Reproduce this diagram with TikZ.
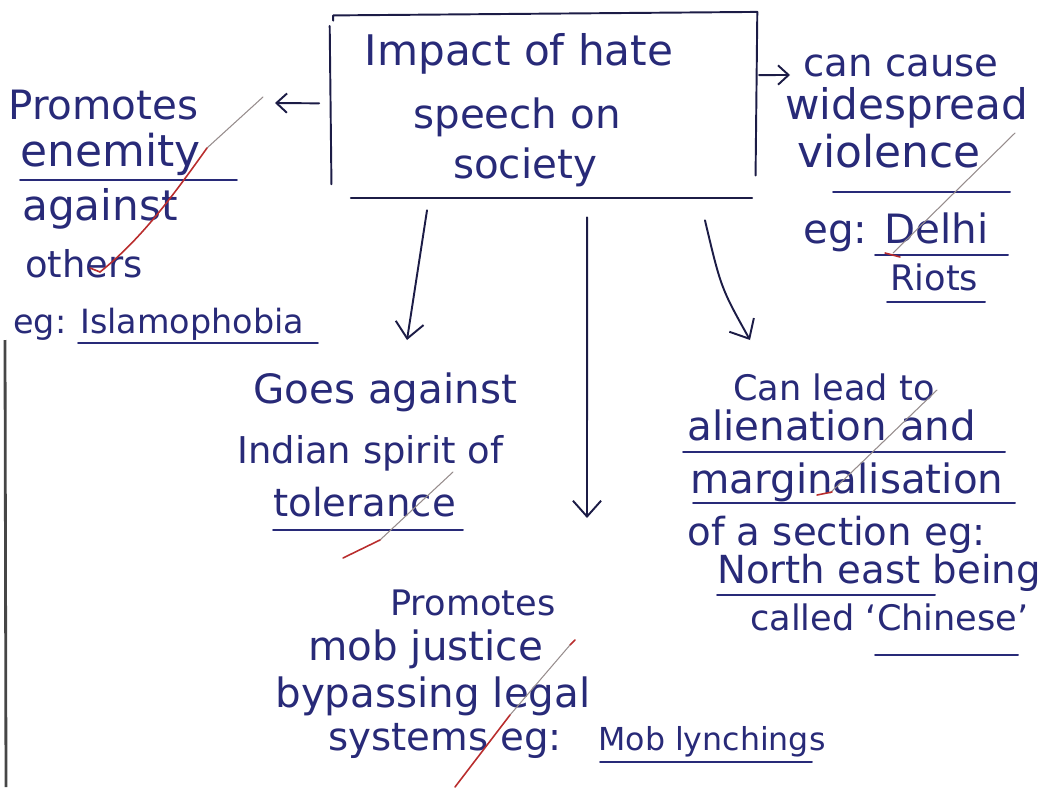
\documentclass[tikz,border=0pt]{standalone}
\usepackage{fontspec}
\setmainfont{DejaVu Sans}
\usetikzlibrary{arrows.meta}
\definecolor{ink}{RGB}{40,42,120}
\definecolor{pen}{RGB}{28,28,70}
\definecolor{markgrey}{RGB}{150,140,140}
\definecolor{markred}{RGB}{185,45,45}
\definecolor{pageedge}{RGB}{70,70,70}
\tikzset{
  txt/.style={text=ink, inner sep=0pt, font=\fontsize{#1pt}{#1pt}\selectfont},
  lw/.style={txt=#1, anchor=base west},
  lc/.style={txt=#1, anchor=base},
  stroke/.style={draw=pen, line width=1.1pt, line cap=round, line join=round},
  arr/.style={stroke, -{Straight Barb[length=9pt,width=16pt]}},
  smallarr/.style={stroke, -{Straight Barb[length=6pt,width=11pt]}},
  uline/.style={draw=ink, line width=1.1pt, line cap=round},
  tickgrey/.style={draw=markgrey, line width=0.6pt, line cap=round},
  tickred/.style={draw=markred, line width=0.9pt, line cap=round},
  titlebox/.style={minimum width=8.54cm, minimum height=3.68cm, inner sep=0pt},
}
\begin{document}
\begin{tikzpicture}[x=0.02cm, y=-0.02cm]
\useasboundingbox (0,0) rectangle (1047,787);

% page edge on the left
\draw[pageedge, line width=1.6pt] (5,340) -- (6,787);

% central box, drawn by hand side by side
\node[titlebox] (box) at (543.5,106) {};
\draw[stroke] ([shift={(2pt,-4pt)}]box.north west) -- ([shift={(2pt,-1pt)}]box.north west)
  -- ([yshift=1pt]box.north east);
\draw[stroke] ([yshift=-7pt]box.north west) -- ([shift={(1pt,8pt)}]box.south west);
\draw[stroke] ([yshift=1pt]box.north east) -- ([shift={(-1pt,13pt)}]box.south east);
\draw[stroke] ([xshift=12pt]box.south west) -- ([xshift=-3pt]box.south east);
\node[lc=24] (c1) at (519,66) {Impact of hate};
\node[lc=23] (c2) at (517,129) {speech on};
\node[lc=23] (c3) at (525,178) {society};

% left branch
\node[lw=23] (p1) at (8,120) {Promotes};
\node[lw=25] (p2) at (20,167) {enemity};
\node[lw=24] (p3) at (22,220) {against};
\node[lw=21] (p4) at (25,277) {others};
\node[lw=19] (p5) at (13,333) {eg: Islamophobia};
\draw[uline] (20,180) -- (237,180);
\draw[uline] (78,343) -- (318,343);

% right branch
\node[lw=22] (r1) at (803,77) {can cause};
\node[lw=24] (r2) at (785,120) {widespread};
\node[lw=25] (r3) at (797,168) {violence};
\node[lw=23] (r4) at (803,243) {eg: Delhi};
\node[lw=20] (r5) at (890,290) {Riots};
\draw[uline] (833,192) -- (1010,192);
\draw[uline] (875,255) -- (1008,255);
\draw[uline] (887,302) -- (985,302);

% lower left branch
\node[lw=23] (g1) at (253,403) {Goes against};
\node[lw=21] (g2) at (237,463) {Indian spirit of};
\node[lw=22] (g3) at (273,516) {tolerance};
\draw[uline] (273,530) -- (463,530);

% lower middle branch
\node[lw=20] (m1) at (390,615) {Promotes};
\node[lw=23] (m2) at (308,660) {mob justice};
\node[lw=23] (m3) at (275,707) {bypassing legal};
\node[lw=22] (m4) at (328,750) {systems eg:};
\node[lw=18] (m5) at (598,750) {Mob lynchings};
\draw[uline] (600,762) -- (812,762);

% lower right branch
\node[lw=20] (a1) at (733,400) {Can lead to};
\node[lw=23] (a2) at (687,440) {alienation and};
\node[lw=23] (a3) at (690,493) {marginalisation};
\node[lw=22] (a4) at (687,545) {of a section eg:};
\node[lw=22] (a5) at (717,583) {North east being};
\node[lw=20] (a6) at (750,630) {called ‘Chinese’};
\draw[uline] (683,452) -- (1005,452);
\draw[uline] (693,503) -- (1015,503);
\draw[uline] (717,595) -- (935,595);
\draw[uline] (875,655) -- (1018,655);

% arrow tips
\coordinate (lt) at (275,103);
\coordinate (rt) at (790,75);
\coordinate (t1) at (407,340);
\coordinate (t2) at (587,518);
\coordinate (t3) at (750,340);

% connectors out of the box
\draw[smallarr] ([shift={(-6pt,1.5pt)}]box.west) -- (lt);
\draw[smallarr] ([shift={(1pt,17.6pt)}]box.east) -- (rt);
\draw[arr] ([shift={(-66.3pt,-6.8pt)}]box.south) -- (t1);
\draw[arr] ([shift={(24.8pt,-10.8pt)}]box.south) -- (t2);
\draw[arr] ([shift={(91.9pt,-12.5pt)}]box.south) .. controls (721,288) .. (t3);

% check marks in the margin pen
\draw[tickgrey] (263,97) -- (207,148);
\draw[tickred] (207,148) .. controls (170,200) and (140,240) .. (100,272) -- (90,268);
\draw[tickgrey] (1015,133) -- (893,253);
\draw[tickred] (885,253) -- (900,257);
\draw[tickgrey] (453,472) -- (380,540);
\draw[tickred] (380,540) -- (343,558);
\draw[tickgrey] (937,390) -- (830,493);
\draw[tickred] (817,495) -- (832,492);
\draw[tickred] (575,640) -- (570,645);
\draw[tickgrey] (570,645) -- (510,715);
\draw[tickred] (510,715) -- (455,787);
\end{tikzpicture}
\end{document}
